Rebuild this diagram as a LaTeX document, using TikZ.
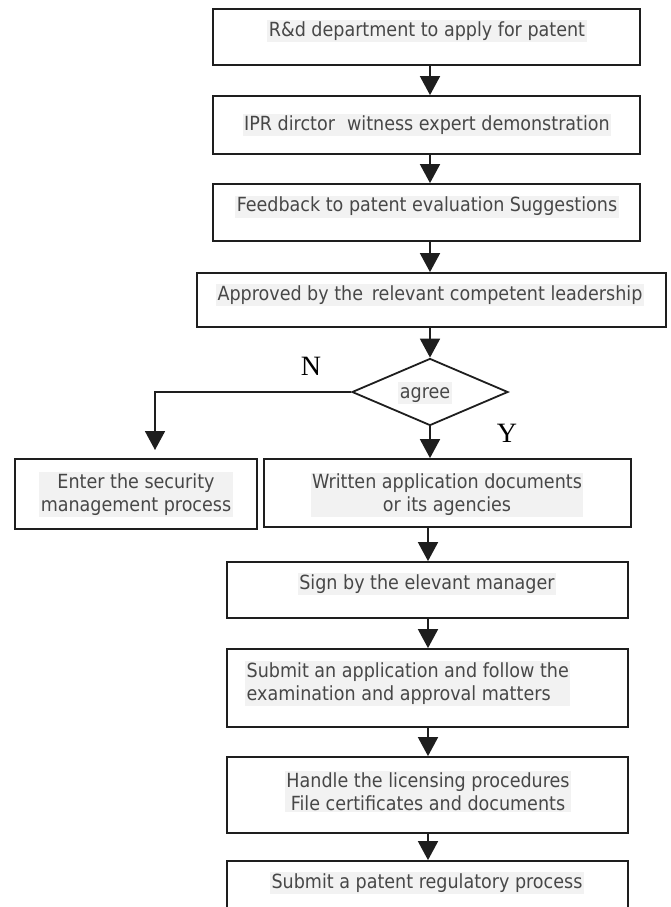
\documentclass[tikz,border=0pt]{standalone}
\usepackage{fontspec}
\setmainfont{DejaVu Sans Condensed}
\newfontfamily\yn{Liberation Serif}
\usetikzlibrary{shapes.geometric,arrows.meta}
\definecolor{txt}{HTML}{474747}
\definecolor{hl}{HTML}{F2F2F2}
\definecolor{ln}{HTML}{1E1E1E}
\tikzset{
  box/.style={draw=ln,line width=1.8pt,fill=white,rectangle,inner sep=0pt},
  lblbase/.style={fill=hl,text=txt,inner sep=1.5pt,font=\fontsize{19.5}{23}\selectfont,align=center},
  lbl/.style={lblbase,text height=14.5pt,text depth=4.5pt},
  lbltwo/.style={lblbase},
  arr/.style={draw=ln,line width=1.8pt,-{Triangle[width=20pt,length=19pt]}},
  yn/.style={font=\yn\fontsize{28}{30}\selectfont,text=black,inner sep=0pt},
}
\newcommand{\bx}[5]{\node[box,minimum width=#4pt-#2pt,minimum height=#5pt-#3pt] (#1) at ({(#2+#4)/2},{(#3+#5)/2}) {};}
\begin{document}
\begin{tikzpicture}[x=1pt,y=-1pt]
\useasboundingbox (0,0) rectangle (670,907);
\clip (0,0) rectangle (670,907);
\fill[white] (0,0) rectangle (670,907);
% boxes
\bx{b1}{213}{9}{640}{65}
\bx{b2}{213}{96}{640}{154}
\bx{b3}{213}{184}{640}{241}
\bx{b4}{197}{273}{666}{327}
\node[box,diamond,minimum width=156pt,minimum height=67pt] (dia) at (430,392) {};
\bx{lb}{15}{459}{257}{529}
\bx{wb}{264}{459}{631}{527}
\bx{sb}{227}{562}{628}{618}
\bx{ab}{227}{649}{628}{727}
\bx{hb}{227}{757}{628}{833}
\bx{pb}{227}{861}{628}{925}
% labels
\node[lbl] (t1) at (427,31.5) {R\&d department to apply for patent};
\node[lbl] (t2) at (427,125) {IPR dirctor\,\, witness expert demonstration};
\node[lbl] (t3) at (427,206.5) {Feedback to patent evaluation Suggestions};
\node[lbl] (t4) at (430,295) {Approved by the\, relevant competent leadership};
\node[lbl] (ta) at (425,393) {agree};
\node[lbltwo] (tl) at (136,494.5) {Enter the security\\management process};
\node[lbltwo] (tw) at (447,495) {Written application documents\\or its agencies};
\node[lbl] (ts) at (427,584) {Sign by the elevant manager};
\node[lbltwo,align=left,anchor=west] (tsub) at (245,683.5) {Submit an application and follow the\\examination and approval matters};
\node[lbltwo] (th) at (428,791.5) {Handle the licensing procedures\\File certificates and documents};
\node[lbl] (tp) at (427,883) {Submit a patent regulatory process};
\node[yn] (nl) at (311,366) {N};
\node[yn] (yl) at (507,433) {Y};
% connectors
\coordinate (nend) at (155,450);
\draw[arr] (b1.south -| 430,0) -- (b2.north -| 430,0);
\draw[arr] (b2.south -| 430,0) -- (b3.north -| 430,0);
\draw[arr] (b3.south -| 430,0) -- (b4.north -| 430,0);
\draw[arr] (b4.south -| dia.north) -- (dia.north);
\draw[arr] (dia.west) -| (nend);
\draw[arr] (dia.south) -- (dia.south |- wb.north);
\draw[arr] (wb.south -| 428,0) -- (sb.north -| 428,0);
\draw[arr] (sb.south -| 428,0) -- (ab.north -| 428,0);
\draw[arr] (ab.south -| 428,0) -- (hb.north -| 428,0);
\draw[arr] (hb.south -| 428,0) -- (pb.north -| 428,0);
\end{tikzpicture}
\end{document}
